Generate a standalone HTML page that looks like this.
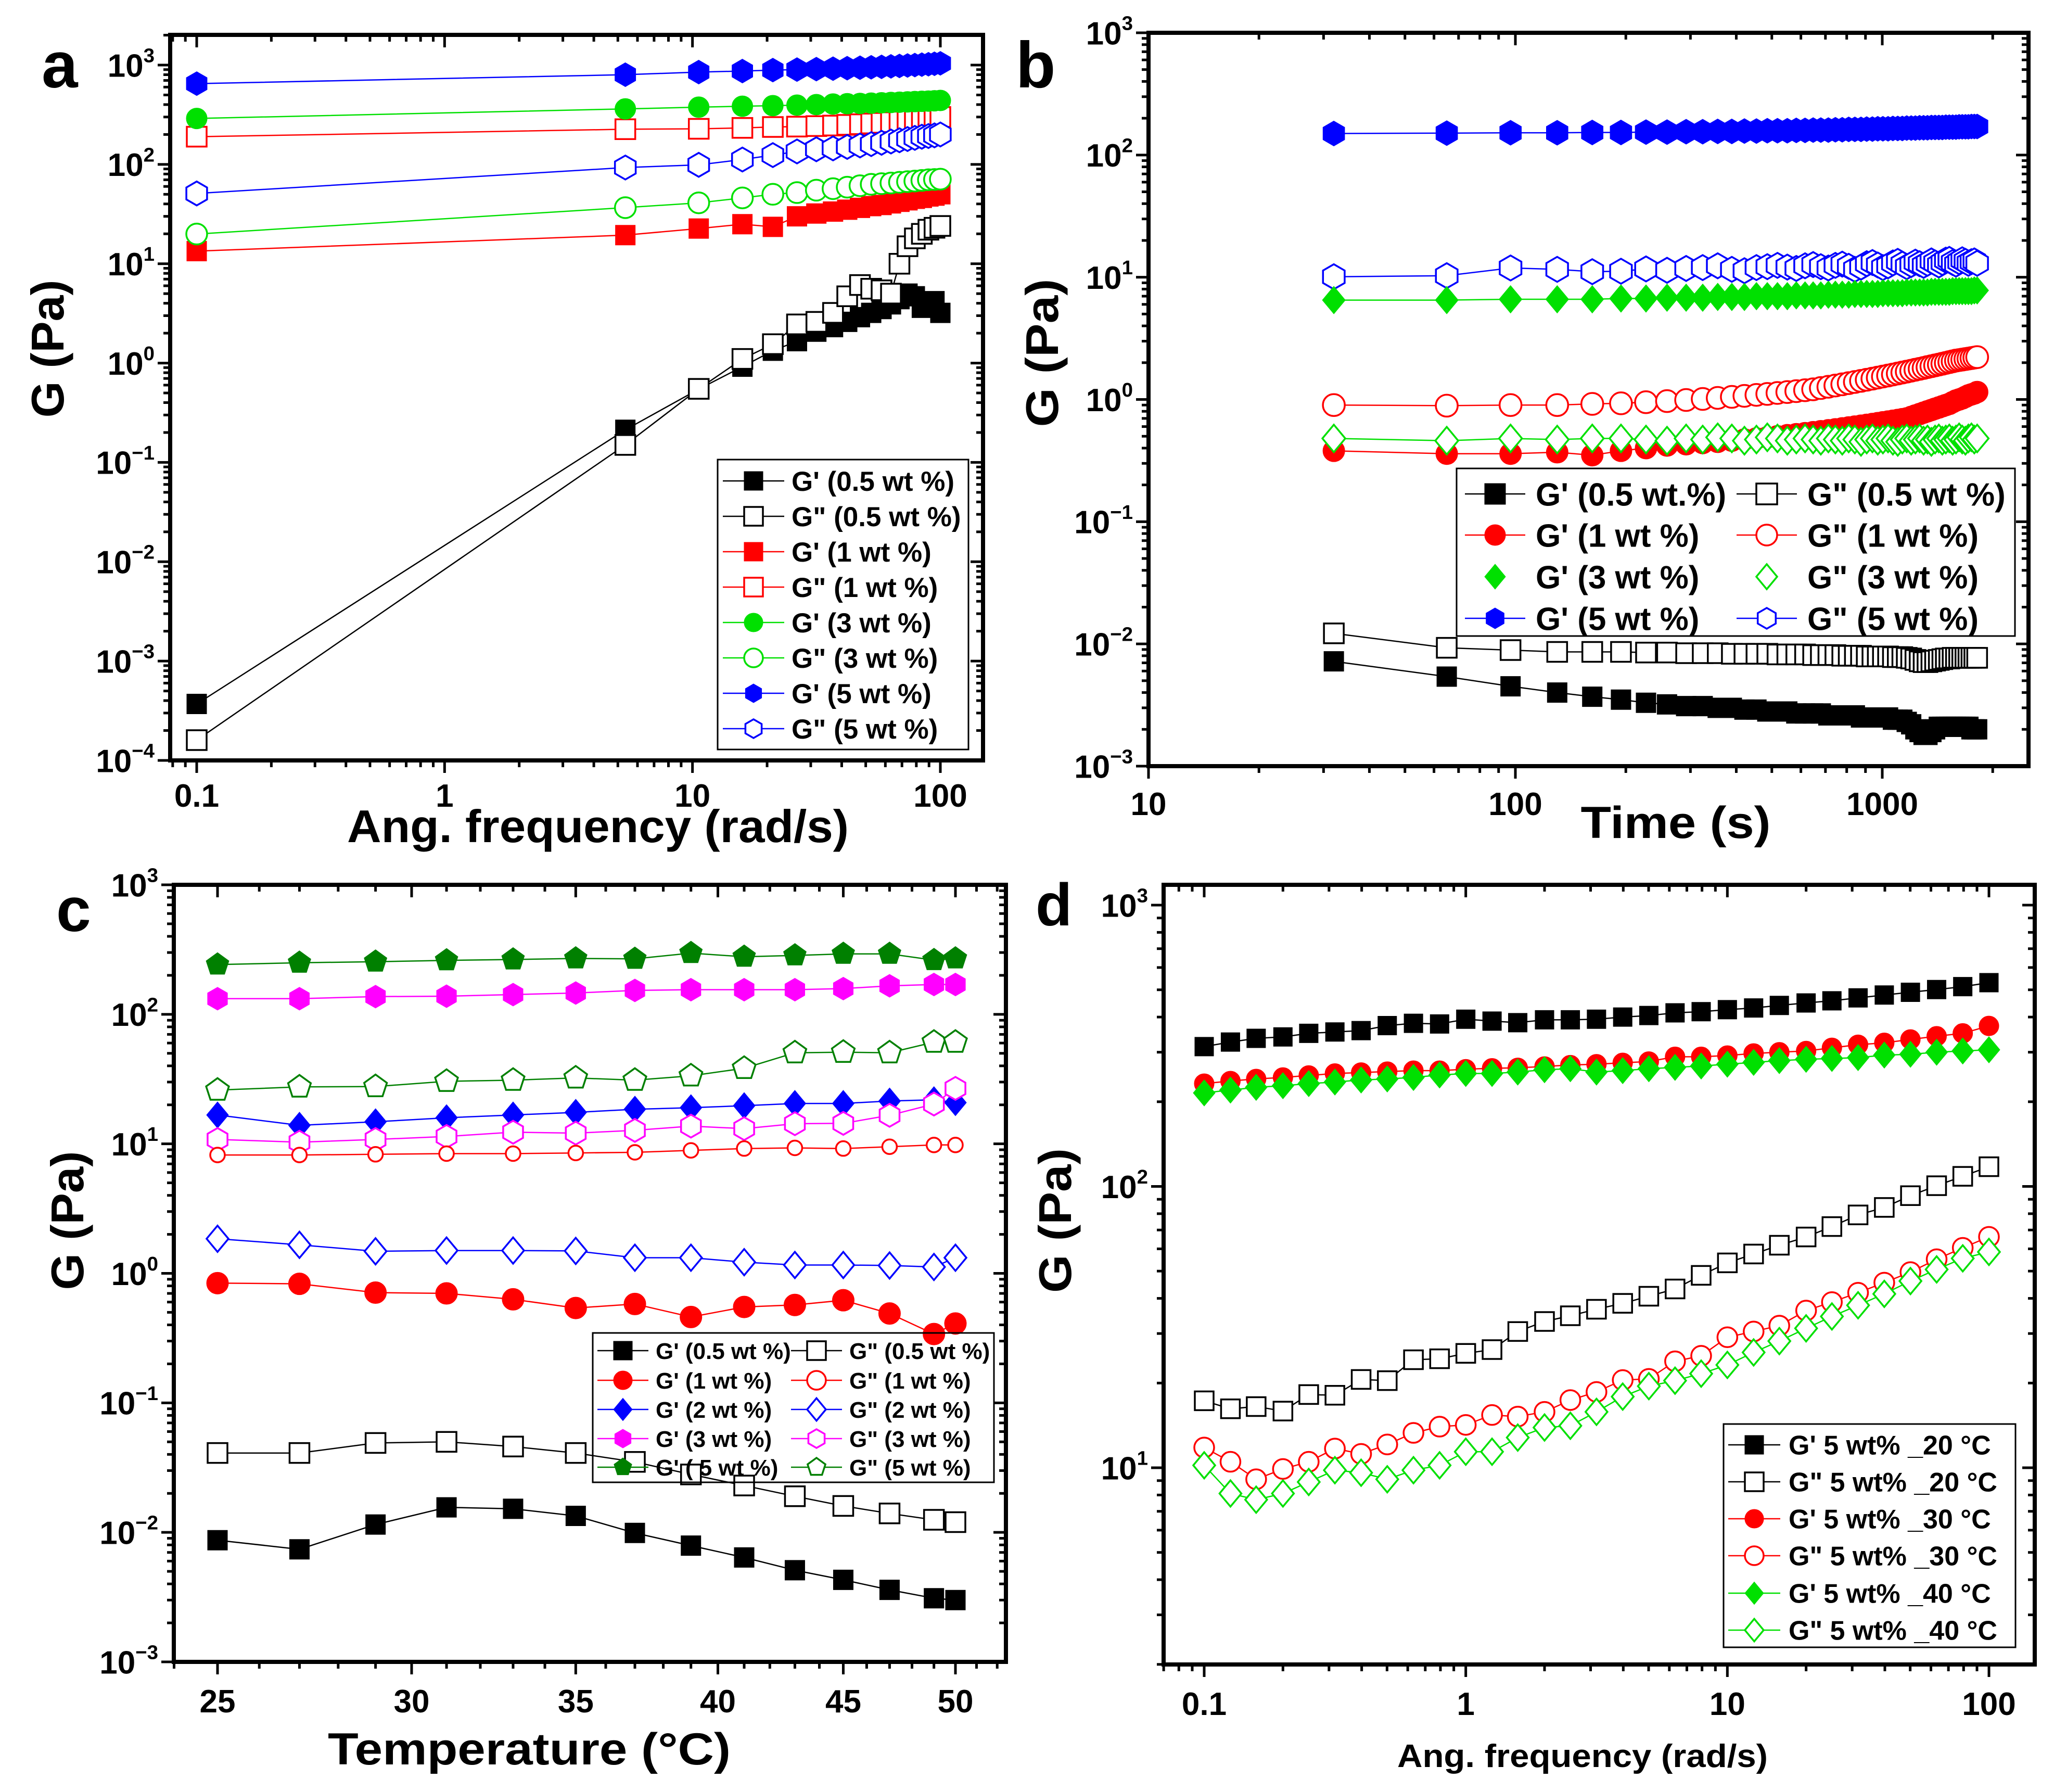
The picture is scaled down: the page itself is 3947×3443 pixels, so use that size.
<!DOCTYPE html>
<html><head><meta charset="utf-8"><style>
html,body{margin:0;padding:0;background:#fff;}
svg{display:block;font-family:"Liberation Sans",Arial,sans-serif;font-weight:bold;}
</style></head>
<body>
<svg id="fig" width="3947" height="3443" viewBox="0 0 3947 3443"></svg>
<script>
// ---------- Panel a data ----------
const freqA = [0.1,5.36,10.6,15.9,21.1,26.4,31.6,36.9,42.1,47.4,52.6,57.9,63.2,68.4,73.7,78.9,84.2,89.5,94.7,100];
const aGp05 = [3.7e-4,0.213,0.546,0.92,1.33,1.66,2.07,2.3,2.6,2.9,3.2,3.5,3.9,4.4,5.0,4.7,3.6,3.9,4.2,3.2];
const aGpp05 = [1.6e-4,0.15,0.55,1.1,1.55,2.45,2.6,3.2,4.7,6.1,5.6,5.4,5.0,10,15,18,20,22,23,24];
const aGp1 = [13.4,19.4,22.6,25,23.5,30,32,33.5,35,36.5,38,39,40.5,42,43.5,45,46,47.5,48.5,50];
const aGpp1 = [190,226,228,233,238,240,243,246,250,254,258,262,266,270,275,280,285,290,295,300];
const aGp3 = [290,362,377,385,390,395,400,405,408,411,414,417,420,423,426,429,432,434,437,440];
const aGpp3 = [19.9,36.7,41,46,50,52,55,57,59,61,63,64,65,66,67,68,69,70,70.5,71];
const aGp5 = [650,800,850,870,890,900,910,920,930,940,950,960,970,980,990,1000,1010,1020,1030,1040];
const aGpp5 = [51,93,99,112,124,135,142,145,150,155,160,165,170,175,180,185,190,193,196,200];

// ---------- Panel b data ----------
const timeB = [32,65,97,130,162,194,227,259,292,324,356,389,421,454,486,518,551,583,616,648,680,713,745,778,810,842,875,907,940,972,1004,1037,1069,1102,1134,1166,1199,1231,1264,1296,1328,1361,1393,1426,1458,1490,1523,1555,1588,1620,1652,1685,1717,1750,1782,1814];
const bGp5 = [150,151,152,152,153,153,154,154,155,155,156,156,157,157,158,158,158,159,159,160,160,160,161,161,162,162,162,163,163,164,164,164,165,165,165,166,166,166,167,167,167,168,168,168,168,169,169,169,169,170,170,170,170,171,171,171];
const bGpp5 = [10.1,10.3,11.9,11.6,11.1,11.2,11.7,11.4,11.8,12.0,12.4,11.6,11.3,12.0,12.2,12.5,12.1,11.8,12.4,12.7,12.2,11.9,12.5,12.8,12.3,11.6,12.1,12.9,13.2,12.6,12.0,12.4,13.1,13.5,12.8,12.2,12.7,13.3,12.9,12.5,13.0,13.6,13.1,12.6,13.2,13.8,14.0,13.2,12.8,13.4,13.9,13.5,13.0,13.4,13.6,13.0];
const bGp3 = [6.5,6.5,6.6,6.6,6.6,6.7,6.7,6.8,6.8,6.8,6.9,6.9,6.9,7.0,7.0,7.0,7.0,7.1,7.1,7.1,7.1,7.2,7.2,7.2,7.2,7.3,7.3,7.3,7.3,7.3,7.4,7.4,7.4,7.4,7.4,7.5,7.5,7.5,7.5,7.5,7.5,7.6,7.6,7.6,7.6,7.6,7.6,7.7,7.7,7.7,7.7,7.7,7.7,7.7,7.8,7.8];
const bGpp1 = [0.90,0.89,0.90,0.90,0.92,0.93,0.95,0.97,0.99,1.01,1.03,1.05,1.07,1.09,1.11,1.13,1.15,1.17,1.19,1.21,1.24,1.27,1.30,1.33,1.36,1.39,1.42,1.45,1.48,1.51,1.54,1.57,1.60,1.63,1.66,1.69,1.72,1.75,1.78,1.81,1.84,1.87,1.90,1.93,1.96,1.99,2.02,2.05,2.08,2.10,2.12,2.14,2.16,2.18,2.20,2.22];
const bGp1 = [0.38,0.36,0.36,0.37,0.35,0.38,0.40,0.42,0.43,0.44,0.45,0.46,0.47,0.48,0.49,0.50,0.51,0.52,0.53,0.54,0.55,0.56,0.57,0.58,0.59,0.60,0.61,0.62,0.63,0.64,0.65,0.66,0.67,0.68,0.69,0.70,0.72,0.74,0.76,0.78,0.80,0.82,0.84,0.86,0.88,0.90,0.92,0.95,0.98,1.00,1.02,1.05,1.08,1.10,1.12,1.15];
const bGpp3 = [0.48,0.46,0.48,0.47,0.48,0.48,0.47,0.46,0.48,0.47,0.49,0.48,0.46,0.47,0.49,0.48,0.46,0.47,0.48,0.47,0.46,0.48,0.47,0.46,0.48,0.47,0.45,0.47,0.48,0.46,0.47,0.48,0.46,0.45,0.47,0.48,0.46,0.47,0.48,0.46,0.47,0.45,0.47,0.48,0.46,0.47,0.48,0.46,0.47,0.49,0.47,0.46,0.48,0.49,0.47,0.48];
const bGpp05 = [0.0122,0.0093,0.0089,0.0086,0.0086,0.0086,0.0085,0.0085,0.0084,0.0084,0.0084,0.0083,0.0083,0.0083,0.0083,0.0082,0.0082,0.0082,0.0082,0.0081,0.0081,0.0081,0.0081,0.0080,0.0080,0.0080,0.0080,0.0079,0.0079,0.0079,0.0079,0.0079,0.0078,0.0078,0.0078,0.0077,0.0076,0.0074,0.0072,0.0071,0.0071,0.0072,0.0073,0.0074,0.0075,0.0076,0.0076,0.0077,0.0077,0.0077,0.0077,0.0077,0.0077,0.0077,0.0077,0.0077];
const bGp05 = [0.0072,0.0054,0.0045,0.0040,0.0037,0.0035,0.0033,0.0032,0.0031,0.0031,0.0030,0.0030,0.0029,0.0029,0.0028,0.0028,0.0028,0.0027,0.0027,0.0027,0.0027,0.0026,0.0026,0.0026,0.0026,0.0026,0.0025,0.0025,0.0025,0.0025,0.0025,0.0025,0.0024,0.0024,0.0024,0.0023,0.0022,0.0020,0.0019,0.0018,0.0018,0.0019,0.0020,0.0021,0.0021,0.0021,0.0021,0.0021,0.0021,0.0021,0.0021,0.0021,0.0021,0.0020,0.0020,0.0020];

// ---------- Panel c data ----------
const tempC = [25,27,29,31,33,35,37,39,41,43,45,47,49,50];
const cGp5 = [242,250,255,261,265,270,268,297,278,285,293,293,262,270];
const cGp3 = [132,132,137,138,142,146,153,155,155,155,158,166,170,170];
const cGpp5 = [26,27.5,27.7,30.4,31,32.3,31,33.5,38.3,50.5,51,50.5,61,61];
const cGp2 = [16.7,13.9,14.8,15.9,16.7,17.5,18.5,19,19.7,20.5,20.5,21.4,21.9,20.8];
const cGpp3 = [10.8,10.3,10.8,11.4,12.3,12.1,12.7,13.7,13.1,14.3,14.4,16.6,20.3,26.8];
const cGpp1 = [8.2,8.2,8.3,8.4,8.4,8.5,8.6,8.9,9.2,9.3,9.2,9.5,9.8,9.8];
const cGpp2 = [1.85,1.66,1.48,1.5,1.5,1.49,1.32,1.32,1.22,1.16,1.16,1.15,1.12,1.32];
const cGp1 = [0.84,0.83,0.71,0.70,0.63,0.54,0.58,0.46,0.55,0.57,0.62,0.49,0.34,0.41];
const cGpp05 = [0.041,0.041,0.049,0.05,0.046,0.041,0.035,0.028,0.023,0.019,0.016,0.014,0.0125,0.012];
const cGp05 = [0.0087,0.0074,0.0115,0.0156,0.0152,0.0134,0.0099,0.0079,0.0064,0.0051,0.0043,0.0036,0.0031,0.0030];

// ---------- Panel d data ----------
const freqD = [0.1,0.126,0.158,0.2,0.251,0.316,0.398,0.501,0.631,0.794,1,1.26,1.58,2,2.51,3.16,3.98,5.01,6.31,7.94,10,12.6,15.8,20,25.1,31.6,39.8,50.1,63.1,79.4,100];
const dGp20 = [314,326,336,340,350,354,358,373,380,378,393,387,382,391,391,393,400,405,414,418,425,431,440,449,457,468,479,490,501,513,530];
const dGpp20 = [17.3,16.2,16.5,15.9,18.2,18.1,20.6,20.4,24.2,24.4,25.5,26.3,30.5,33.1,34.7,36.6,38.4,40.7,43.2,48.3,53.5,57.5,61.8,66.1,72.0,79.2,84.2,92.7,100.6,108.6,117.5];
const dGp30 = [232,237,241,244,248,252,254,256,258,258,261,263,264,267,270,272,275,278,289,289,292,297,300,303,311,319,324,333,342,350,372];
const dGpp30 = [11.8,10.5,9.1,9.9,10.5,11.7,11.2,12.1,13.3,14.0,14.2,15.4,15.2,15.8,17.4,18.6,20.5,20.7,23.9,25.0,29.1,30.5,32.0,36.2,38.8,41.9,45.5,49.6,55.1,60.5,66.2];
const dGp40 = [215,220,225,228,232,235,239,241,244,249,252,252,255,260,262,255,258,262,265,268,272,276,280,283,285,287,293,295,300,303,306];
const dGpp40 = [10.2,8.1,7.7,8.1,8.9,9.8,9.6,9.1,9.8,10.2,11.4,11.4,12.8,13.9,14.1,15.8,17.9,19.5,20.4,21.6,23.2,25.7,28.2,31.3,34.5,37.8,41.5,46.1,50.7,55.5,58.5];

const NS = 'http://www.w3.org/2000/svg';
const svg = document.getElementById('fig');
function el(tag, attrs, parent){
  const e = document.createElementNS(NS, tag);
  for (const k in attrs) e.setAttribute(k, attrs[k]);
  (parent||svg).appendChild(e);
  return e;
}
const L10 = Math.log10;

function makeScale(v0,p0,v1,p1){
  const a=L10(v0), b=L10(v1);
  return v => p0 + (L10(v)-a)/(b-a)*(p1-p0);
}

function markerPath(shape, cx, cy, r){
  if (shape==='square') return `M${cx-r},${cy-r}H${cx+r}V${cy+r}H${cx-r}Z`;
  if (shape==='diamond') return `M${cx},${cy-r*1.2}L${cx+r},${cy}L${cx},${cy+r*1.2}L${cx-r},${cy}Z`;
  if (shape==='circle') return `M${cx-r},${cy}a${r},${r} 0 1,0 ${2*r},0a${r},${r} 0 1,0 ${-2*r},0Z`;
  let n = shape==='hexagon'?6:5, pts=[];
  for (let i=0;i<n;i++){ const ang=-Math.PI/2+i*2*Math.PI/n; pts.push((cx+r*Math.cos(ang)).toFixed(1)+','+(cy+r*Math.sin(ang)).toFixed(1)); }
  return 'M'+pts.join('L')+'Z';
}
function drawMarker(g, shape, cx, cy, r, color, filled){
  const m = el('path', {d: markerPath(shape,cx,cy,r), fill: filled?color:'#fff', stroke: color, 'stroke-width': filled?1:3.5}, g);
  
  
  return m;
}

function supText(g, x, y, exp, size, anchor){
  const t = el('text', {x:x, y:y, 'font-size':size, 'text-anchor':anchor||'end', fill:'#000'}, g);
  
  
  const a = el('tspan', {}, t); a.textContent = '10';
  const b = el('tspan', {dy: -size*0.45, 'font-size': size*0.62}, t);
  b.textContent = exp < 0 ? '\u2212'+(-exp) : String(exp);
  return t;
}

function drawPanel(P){
  const g = el('g', {});
  
  
  const sx = P.sx, sy = P.sy;
  const tg = el('g', {stroke:'#000', 'stroke-width':5}, g);
  
  
  const xt = P.xTicks();
  xt.forEach(t => {
    const x = sx(t.v); if (x < P.L-1 || x > P.R+1) return;
    const len = t.major?24:13;
    el('line', {x1:x, y1:P.B, x2:x, y2:P.B+len}, tg);
    el('line', {x1:x, y1:P.T, x2:x, y2:P.T+len}, tg);
  });
  for (let d=-6; d<=4; d++) for (let m=1; m<=9; m++){
    const v = m*Math.pow(10,d), y = sy(v);
    if (y < P.T-1 || y > P.B+1) continue;
    const len = m===1?24:13;
    el('line', {x1:P.L-len, y1:y, x2:P.L, y2:y}, tg);
    el('line', {x1:P.R-len, y1:y, x2:P.R, y2:y}, tg);
  }
  P.xLabels.forEach(v => {
    const t = el('text', {x:sx(v), y:P.xLabY, 'font-size':P.tickFont, 'text-anchor':'middle'}, g);
    
    
    t.textContent = String(v);
  });
  for (let d=P.yDec[0]; d<=P.yDec[1]; d++){
    supText(g, P.L-30, sy(Math.pow(10,d))+P.tickFont*0.36, d, P.tickFont);
  }
  const clip = el('clipPath', {id:'clip-'+P.name}, g);
  el('rect', {x:P.L, y:P.T-40, width:P.R-P.L, height:P.B-P.T+40}, clip);
  P.series.forEach(s => {
    const sg = el('g', {'clip-path':'url(#clip-'+P.name+')'}, g);
    
    
    const pts = s.x.map((xv,i) => [sx(xv), sy(s.y[i])]);
    const ln = el('polyline', {points: pts.map(p=>p[0].toFixed(1)+','+p[1].toFixed(1)).join(' '), fill:'none', stroke:s.color, 'stroke-width':2.5}, sg);
    
    
    pts.forEach(p => drawMarker(sg, s.shape, p[0], p[1], s.r, s.color, s.filled));
  });
  const fr = el('rect', {x:P.L, y:P.T, width:P.R-P.L, height:P.B-P.T, fill:'none', stroke:'#000', 'stroke-width':8}, g);
  
  
  const lg = el('g', {}, g);
  
  
  const LB = P.legend;
  if (LB.box) el('rect', {x:LB.box[0], y:LB.box[1], width:LB.box[2], height:LB.box[3], fill:LB.fill||'#fff', stroke:'#000', 'stroke-width':3}, lg);
  LB.items.forEach(it => {
    const ig = el('g', {}, lg);
    
    
    if (it.line!==false) el('line', {x1:it.x, y1:it.y, x2:it.x+LB.lineW, y2:it.y, stroke:it.color, 'stroke-width':2.5}, ig);
    drawMarker(ig, it.shape, it.x+LB.lineW/2, it.y, LB.r, it.color, it.filled);
    const t = el('text', {x:it.x+LB.lineW+LB.gap, y:it.y+LB.font*0.36, 'font-size':LB.font}, ig);
    
    
    t.textContent = it.label;
  });
  const xt2 = el('text', {x:P.xTitle[0], y:P.xTitle[1], 'font-size':P.xTitle[2], 'text-anchor':'middle', textLength:P.xTitle[3], lengthAdjust:'spacingAndGlyphs'}, g);
  
  
  xt2.textContent = P.xTitle[4];
  const yt = el('text', {x:0, y:0, 'font-size':P.yTitle[2], 'text-anchor':'middle', textLength:P.yTitle[3], lengthAdjust:'spacingAndGlyphs', transform:`translate(${P.yTitle[0]},${P.yTitle[1]}) rotate(-90)`}, g);
  
  
  yt.textContent = 'G (Pa)';
  const pl = el('text', {x:P.letter[0], y:P.letter[1], 'font-size':P.letter[2]}, g);
  
  
  pl.textContent = P.letter[3];
}

function logTicks(){
  const out=[];
  for (let d=-3; d<=4; d++) for (let m=1;m<=9;m++) out.push({v:m*Math.pow(10,d), major:m===1});
  return out;
}
const K='#000', R='#ff0000', GR='#00e000', BL='#0000ff', MG='#ff00ff', DG='#008000';

drawPanel({
  name:'panel-a', L:327, R:1889, T:67, B:1461,
  sx: makeScale(0.1,378,100,1807), sy: makeScale(1e-4,1461,1e3,125),
  xTicks: logTicks, xLabels:[0.1,1,10,100], xLabY:1550, tickFont:62, yDec:[-4,3],
  series:[
    {name:'series-a-gp-05', x:freqA, y:aGp05, shape:'square', color:K, filled:true, r:19},
    {name:'series-a-gpp-05', x:freqA, y:aGpp05, shape:'square', color:K, filled:false, r:19},
    {name:'series-a-gp-1', x:freqA, y:aGp1, shape:'square', color:R, filled:true, r:19},
    {name:'series-a-gpp-1', x:freqA, y:aGpp1, shape:'square', color:R, filled:false, r:19},
    {name:'series-a-gp-3', x:freqA, y:aGp3, shape:'circle', color:GR, filled:true, r:20},
    {name:'series-a-gpp-3', x:freqA, y:aGpp3, shape:'circle', color:GR, filled:false, r:20},
    {name:'series-a-gp-5', x:freqA, y:aGp5, shape:'hexagon', color:BL, filled:true, r:23},
    {name:'series-a-gpp-5', x:freqA, y:aGpp5, shape:'hexagon', color:BL, filled:false, r:23}
  ],
  legend:{box:[1379,883,482,557], lineW:118, gap:14, font:53, r:18, items:[
    {x:1389,y:924,label:"G' (0.5 wt %)",shape:'square',color:K,filled:true},
    {x:1389,y:992,label:'G" (0.5 wt %)',shape:'square',color:K,filled:false},
    {x:1389,y:1060,label:"G' (1 wt %)",shape:'square',color:R,filled:true},
    {x:1389,y:1128,label:'G" (1 wt %)',shape:'square',color:R,filled:false},
    {x:1389,y:1196,label:"G' (3 wt %)",shape:'circle',color:GR,filled:true},
    {x:1389,y:1264,label:'G" (3 wt %)',shape:'circle',color:GR,filled:false},
    {x:1389,y:1332,label:"G' (5 wt %)",shape:'hexagon',color:BL,filled:true},
    {x:1389,y:1400,label:'G" (5 wt %)',shape:'hexagon',color:BL,filled:false}
  ]},
  xTitle:[1149,1618,88,964,'Ang. frequency (rad/s)'],
  yTitle:[122,670,88,265], letter:[80,168,125,'a']
});

drawPanel({
  name:'panel-b', L:2207, R:3898, T:63, B:1472,
  sx: makeScale(10,2207,1000,3617), sy: makeScale(1e-3,1472,1e3,63),
  xTicks: logTicks, xLabels:[10,100,1000], xLabY:1566, tickFont:62, yDec:[-3,3],
  series:[
    {name:'series-b-gp-5', x:timeB, y:bGp5, shape:'hexagon', color:BL, filled:true, r:24},
    {name:'series-b-gpp-5', x:timeB, y:bGpp5, shape:'hexagon', color:BL, filled:false, r:24},
    {name:'series-b-gp-3', x:timeB, y:bGp3, shape:'diamond', color:GR, filled:true, r:22},
    {name:'series-b-gpp-1', x:timeB, y:bGpp1, shape:'circle', color:R, filled:false, r:21},
    {name:'series-b-gp-1', x:timeB, y:bGp1, shape:'circle', color:R, filled:true, r:21},
    {name:'series-b-gpp-3', x:timeB, y:bGpp3, shape:'diamond', color:GR, filled:false, r:22},
    {name:'series-b-gpp-05', x:timeB, y:bGpp05, shape:'square', color:K, filled:false, r:19},
    {name:'series-b-gp-05', x:timeB, y:bGp05, shape:'square', color:K, filled:true, r:19}
  ],
  legend:{box:[2799,900,1073,322], lineW:116, gap:20, font:62, r:20, items:[
    {x:2815,y:949,label:"G' (0.5 wt.%)",shape:'square',color:K,filled:true},
    {x:3337,y:949,label:'G" (0.5 wt %)',shape:'square',color:K,filled:false},
    {x:2815,y:1028,label:"G' (1 wt %)",shape:'circle',color:R,filled:true},
    {x:3337,y:1028,label:'G" (1 wt %)',shape:'circle',color:R,filled:false},
    {x:2815,y:1108,label:"G' (3 wt %)",shape:'diamond',color:GR,filled:true,line:false},
    {x:3337,y:1108,label:'G" (3 wt %)',shape:'diamond',color:GR,filled:false,line:false},
    {x:2815,y:1188,label:"G' (5 wt %)",shape:'hexagon',color:BL,filled:true},
    {x:3337,y:1188,label:'G" (5 wt %)',shape:'hexagon',color:BL,filled:false}
  ]},
  xTitle:[3220,1610,86,365,'Time (s)'],
  yTitle:[2033,678,88,285], letter:[1952,168,125,'b']
});

function cTicks(){ const o=[]; for (let t=20;t<=55;t++) o.push({v:t, major:t%5===0}); return o; }
drawPanel({
  name:'panel-c', L:334, R:1933, T:1700, B:3193,
  sx: makeScale(25,418,50,1836), sy: makeScale(1e-3,3193,1e3,1700),
  xTicks: cTicks, xLabels:[25,30,35,40,45,50], xLabY:3290, tickFont:62, yDec:[-3,3],
  series:[
    {name:'series-c-gp-5', x:tempC, y:cGp5, shape:'pentagon', color:DG, filled:true, r:23},
    {name:'series-c-gp-3', x:tempC, y:cGp3, shape:'hexagon', color:MG, filled:true, r:22},
    {name:'series-c-gpp-5', x:tempC, y:cGpp5, shape:'pentagon', color:DG, filled:false, r:23},
    {name:'series-c-gp-2', x:tempC, y:cGp2, shape:'diamond', color:BL, filled:true, r:21},
    {name:'series-c-gpp-3', x:tempC, y:cGpp3, shape:'hexagon', color:MG, filled:false, r:22},
    {name:'series-c-gpp-1', x:tempC, y:cGpp1, shape:'circle', color:R, filled:false, r:14},
    {name:'series-c-gpp-2', x:tempC, y:cGpp2, shape:'diamond', color:BL, filled:false, r:21},
    {name:'series-c-gp-1', x:tempC, y:cGp1, shape:'circle', color:R, filled:true, r:21},
    {name:'series-c-gpp-05', x:tempC, y:cGpp05, shape:'square', color:K, filled:false, r:19},
    {name:'series-c-gp-05', x:tempC, y:cGp05, shape:'square', color:K, filled:true, r:19}
  ],
  legend:{box:[1139,2561,771,287], fill:'none', lineW:98, gap:14, font:44, r:18, items:[
    {x:1148,y:2595,label:"G' (0.5 wt %)",shape:'square',color:K,filled:true},
    {x:1520,y:2595,label:'G" (0.5 wt %)',shape:'square',color:K,filled:false},
    {x:1148,y:2652,label:"G' (1 wt %)",shape:'circle',color:R,filled:true},
    {x:1520,y:2652,label:'G" (1 wt %)',shape:'circle',color:R,filled:false},
    {x:1148,y:2708,label:"G' (2 wt %)",shape:'diamond',color:BL,filled:true},
    {x:1520,y:2708,label:'G" (2 wt %)',shape:'diamond',color:BL,filled:false},
    {x:1148,y:2764,label:"G' (3 wt %)",shape:'hexagon',color:MG,filled:true},
    {x:1520,y:2764,label:'G" (3 wt %)',shape:'hexagon',color:MG,filled:false},
    {x:1148,y:2819,label:"G' ( 5 wt %)",shape:'pentagon',color:DG,filled:true},
    {x:1520,y:2819,label:'G" (5  wt %)',shape:'pentagon',color:DG,filled:false}
  ]},
  xTitle:[1017,3390,86,774,'Temperature (\u00B0C)'],
  yTitle:[160,2345,88,267], letter:[108,1789,120,'c']
});

drawPanel({
  name:'panel-d', L:2236, R:3910, T:1700, B:3198,
  sx: makeScale(0.1,2314,100,3822), sy: makeScale(10,2820,1000,1739),
  xTicks: logTicks, xLabels:[0.1,1,10,100], xLabY:3295, tickFont:62, yDec:[1,3],
  series:[
    {name:'series-d-gp-20', x:freqD, y:dGp20, shape:'square', color:K, filled:true, r:18},
    {name:'series-d-gp-30', x:freqD, y:dGp30, shape:'circle', color:R, filled:true, r:19},
    {name:'series-d-gp-40', x:freqD, y:dGp40, shape:'diamond', color:GR, filled:true, r:21},
    {name:'series-d-gpp-20', x:freqD, y:dGpp20, shape:'square', color:K, filled:false, r:18},
    {name:'series-d-gpp-30', x:freqD, y:dGpp30, shape:'circle', color:R, filled:false, r:19},
    {name:'series-d-gpp-40', x:freqD, y:dGpp40, shape:'diamond', color:GR, filled:false, r:21}
  ],
  legend:{box:[3312,2736,561,429], lineW:100, gap:16, font:52, r:18, items:[
    {x:3321,y:2776,label:"G' 5 wt% _20 \u00B0C",shape:'square',color:K,filled:true},
    {x:3321,y:2847,label:'G" 5 wt% _20 \u00B0C',shape:'square',color:K,filled:false},
    {x:3321,y:2918,label:"G' 5 wt% _30 \u00B0C",shape:'circle',color:R,filled:true},
    {x:3321,y:2989,label:'G" 5 wt% _30 \u00B0C',shape:'circle',color:R,filled:false},
    {x:3321,y:3061,label:"G' 5 wt% _40 \u00B0C",shape:'diamond',color:GR,filled:true},
    {x:3321,y:3132,label:'G" 5 wt% _40 \u00B0C',shape:'diamond',color:GR,filled:false}
  ]},
  xTitle:[3041,3395,62,712,'Ang. frequency (rad/s)'],
  yTitle:[2058,2345,88,278], letter:[1990,1778,115,'d']
});
</script>
</body></html>
